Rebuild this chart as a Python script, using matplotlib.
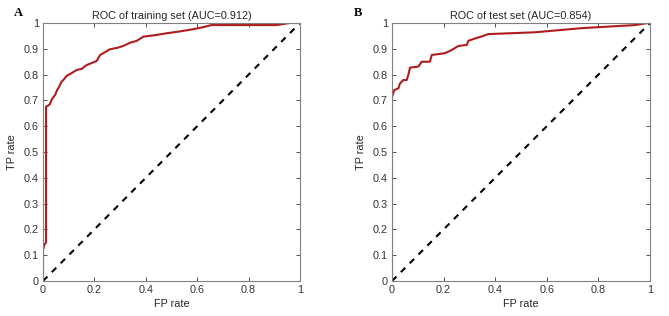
import matplotlib.pyplot as plt

plt.rcParams['font.family'] = ['Liberation Sans', 'DejaVu Sans']

# ROC curve of the training set (FP rate, TP rate)
train_fpr = [0.0, 0.0, 0.005, 0.012, 0.012, 0.02, 0.027, 0.035, 0.047, 0.055, 0.06,
             0.073, 0.08, 0.092, 0.11, 0.131, 0.15, 0.17, 0.19, 0.209, 0.222,
             0.24, 0.26, 0.29, 0.312, 0.34, 0.365, 0.39, 0.43, 0.48, 0.53,
             0.585, 0.62, 0.656, 0.909, 0.96, 1.0]
train_tpr = [0.0, 0.12, 0.14, 0.15, 0.676, 0.68, 0.686, 0.705, 0.721, 0.74, 0.748,
             0.773, 0.78, 0.795, 0.805, 0.818, 0.822, 0.837, 0.845, 0.853, 0.876,
             0.886, 0.898, 0.904, 0.911, 0.924, 0.931, 0.947, 0.952, 0.96, 0.967,
             0.976, 0.983, 0.992, 0.992, 1.0, 1.0]

# ROC curve of the test set
test_fpr = [0.0, 0.0, 0.009, 0.025, 0.031, 0.044, 0.057, 0.063, 0.07, 0.102, 0.115,
            0.147, 0.154, 0.205, 0.231, 0.257, 0.29, 0.296, 0.322, 0.348, 0.373,
            0.554, 0.735, 0.942, 0.992, 1.0]
test_tpr = [0.0, 0.714, 0.74, 0.747, 0.766, 0.779, 0.779, 0.798, 0.827, 0.831, 0.85,
            0.85, 0.876, 0.883, 0.895, 0.911, 0.915, 0.931, 0.94, 0.948, 0.957,
            0.964, 0.98, 0.992, 1.0, 1.0]

titles = ['ROC of training set (AUC=0.912)', 'ROC of test set (AUC=0.854)']
panel_labels = ['A', 'B']
xticks = [0, 0.2, 0.4, 0.6, 0.8, 1]
xtick_labels = ['0', '0.2', '0.4', '0.6', '0.8', '1']
yticks = [0, 0.1, 0.2, 0.3, 0.4, 0.5, 0.6, 0.7, 0.8, 0.9, 1]
ytick_labels = ['0', '0.1', '0.2', '0.3', '0.4', '0.5', '0.6', '0.7', '0.8', '0.9', '1']

fig = plt.figure(figsize=(6.69, 3.16), dpi=100)
ax_a = fig.add_axes([43 / 669, 35 / 316, 257 / 669, 258 / 316])
ax_b = fig.add_axes([392 / 669, 35 / 316, 258 / 669, 258 / 316])

curves = [(train_fpr, train_tpr), (test_fpr, test_tpr)]
for ax, (fpr, tpr), title in zip([ax_a, ax_b], curves, titles):
    ax.plot(fpr, tpr, color='#b01c1c', lw=1.5)
    ax.plot([0, 1], [0, 1], 'k--', lw=1.5, dashes=(3, 3))
    ax.set_xlim(0, 1)
    ax.set_ylim(0, 1)
    ax.set_xticks(xticks)
    ax.set_xticklabels(xtick_labels)
    ax.set_yticks(yticks)
    ax.set_yticklabels(ytick_labels)
    ax.tick_params(direction='in', top=True, right=True, labelsize=7.8,
                   colors='#333333', length=3, width=0.6, pad=3)
    for s in ax.spines.values():
        s.set_color('#808080')
        s.set_linewidth(0.8)
    ax.set_title(title, fontsize=7.8, color='#262626', pad=3)
    ax.set_xlabel('FP rate', fontsize=7.8, color='#262626', labelpad=3)
    ax.set_ylabel('TP rate', fontsize=7.8, color='#262626', labelpad=5)

for x, lab in zip([18, 358], panel_labels):
    fig.text(x / 669, 1 - 13 / 316, lab, fontsize=9, fontweight='bold',
             family='Liberation Serif', ha='center', va='center')

plt.savefig('out.png', dpi=100)
